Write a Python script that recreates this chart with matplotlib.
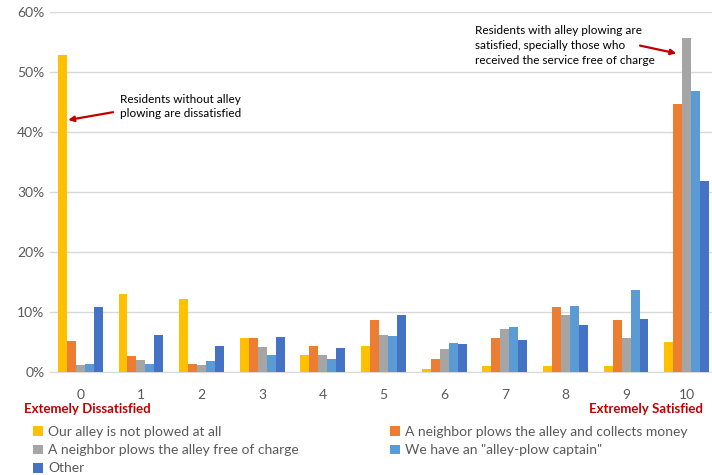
import matplotlib
matplotlib.use("Agg")
import matplotlib.pyplot as plt
import numpy as np
from matplotlib.ticker import PercentFormatter

plt.rcParams['font.family'] = ['Lato', 'DejaVu Sans']

# satisfaction scores 0..10
scores = ['0', '1', '2', '3', '4', '5', '6', '7', '8', '9', '10']

# share of respondents (%) per group
not_plowed = [52.8, 13.0, 12.2, 5.7, 2.8, 4.3, 0.55, 0.95, 1.05, 0.95, 5.0]
neighbor_money = [5.2, 2.6, 1.3, 5.7, 4.3, 8.7, 2.1, 5.6, 10.8, 8.7, 44.7]
neighbor_free = [1.1, 2.0, 1.1, 4.1, 2.9, 6.2, 3.8, 7.1, 9.5, 5.6, 55.7]
plow_captain = [1.3, 1.3, 1.8, 2.9, 2.2, 6.0, 4.8, 7.5, 11.0, 13.7, 46.9]
other = [10.8, 6.1, 4.4, 5.9, 4.0, 9.5, 4.7, 5.4, 7.9, 8.8, 31.8]

series = [
    ("Our alley is not plowed at all", not_plowed, '#FFC000'),
    ("A neighbor plows the alley and collects money", neighbor_money, '#ED7D31'),
    ("A neighbor plows the alley free of charge", neighbor_free, '#A5A5A5'),
    ('We have an "alley-plow captain"', plow_captain, '#5B9BD5'),
    ("Other", other, '#4472C4'),
]

fig = plt.figure(figsize=(7.12, 4.75), dpi=100)
ax = fig.add_axes([50/712, 103/475, 667/712, 360/475])

x = np.arange(len(scores))
w = 0.148
for i, (name, vals, col) in enumerate(series):
    ax.bar(x + (i - 2) * w, vals, w, color=col, label=name, zorder=3)

ax.set_ylim(0, 60)
ax.set_xlim(-0.5, len(scores) - 0.5)
ax.set_yticks(range(0, 61, 10))
ax.yaxis.set_major_formatter(PercentFormatter(decimals=0))
ax.set_xticks(x)
ax.set_xticklabels(scores)
ax.tick_params(length=0, labelsize=10, colors='#595959')
ax.tick_params(axis='x', pad=12)
ax.tick_params(axis='y', pad=4)
ax.grid(axis='y', color='#D9D9D9', linewidth=1, zorder=0)
for s in ['top', 'right', 'left']:
    ax.spines[s].set_visible(False)
ax.spines['bottom'].set_color('#D9D9D9')

# end labels
fig.text(87/712, 1 - 409/475, "Extemely Dissatisfied", color='#C00000',
         fontweight='bold', fontsize=9.5, ha='center', va='center')
fig.text(703/712, 1 - 409/475, "Extremely Satisfied", color='#C00000',
         fontweight='bold', fontsize=9.5, ha='right', va='center')

# annotations
arrow = dict(arrowstyle='-|>', color='#C00000', lw=1.6,
             shrinkA=0, shrinkB=0, mutation_scale=8)
ax.text(0.654, 44.25, "Residents without alley\nplowing are dissatisfied",
        fontsize=8.5, va='center', ha='left', linespacing=1.35)
ax.annotate("", xy=(-0.2, 42.0), xytext=(0.54, 43.3), arrowprops=arrow)
ax.text(6.508, 54.4, "Residents with alley plowing are\nsatisfied, specially those who\nreceived the service free of charge",
        fontsize=8.5, va='center', ha='left', linespacing=1.4)
ax.annotate("", xy=(9.83, 53.1), xytext=(9.23, 54.4), arrowprops=arrow)

# legend filled row by row like the original
order = [0, 2, 4, 1, 3]
h, l = ax.get_legend_handles_labels()
leg = fig.legend([h[i] for i in order], [l[i] for i in order],
                 loc='upper left', bbox_to_anchor=(33/712, 1 - 426/475),
                 ncol=2, frameon=False, fontsize=10, handlelength=0.7,
                 handleheight=0.7, handletextpad=0.4, columnspacing=6.55,
                 labelspacing=0.45, borderaxespad=0, borderpad=0)
for t in leg.get_texts():
    t.set_color('#595959')

fig.savefig('out.png', dpi=100)
